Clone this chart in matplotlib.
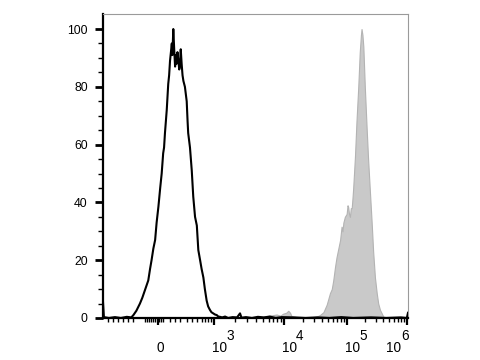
import numpy as np
import matplotlib
matplotlib.use('Agg')
from matplotlib import pyplot as plt
import matplotlib.transforms as mtransforms

plt.rcParams['font.family'] = 'Liberation Sans'

# x values are display channels (0-1024) of the biexponential axis
ctrl_ch = [0, 3, 20, 40, 60, 80, 95, 102, 112, 124, 132, 141, 152, 158, 163, 169,
           175, 180, 186, 192, 197, 202, 205, 208, 211, 214, 219, 222, 225, 228,
           231, 233, 236, 239, 242, 245, 247, 250, 253, 256, 258, 261, 264, 267,
           270, 275, 281, 284, 286, 292, 298, 303, 309, 315, 320, 326, 331, 337,
           342, 348, 353, 359, 364, 370, 376, 382, 387, 393, 400, 410, 420, 435,
           450, 460, 465, 480, 500, 520, 540, 560, 580, 600, 640, 680, 720, 760,
           800, 840, 900, 950, 1000, 1020, 1024]
ctrl_pct = [5.5, 0.3, 0, 0.3, 0, 0.4, 0.2, 1, 2.5, 5, 7, 9.7, 13, 17, 20, 24,
            27, 33, 38.5, 45, 50, 57, 59, 64, 68, 72, 81, 84, 89, 92,
            95, 91, 100, 93, 87, 91, 88, 92, 89, 86, 87, 93, 88, 84,
            82, 80, 75, 68, 64, 59, 51, 42, 35, 32, 23.5, 20, 17, 14,
            10, 6, 4, 2.8, 2, 1.6, 1.2, 1, 0.5, 0.4, 0.2, 0.5, 0, 0.3,
            0.2, 1.6, 0.1, 0.3, 0, 0.4, 0.2, 0.5, 0, 0.3, 0.2, 0, 0.2, 0,
            0.3, 0, 0.2, 0, 0.2, 0, 1.8]

stain_ch = [500, 530, 549, 565, 583, 595, 605, 615, 622, 628, 633, 650, 670, 684,
            700, 706, 718, 728, 740, 751, 762, 768, 773, 779, 784, 790, 796, 801,
            804, 807, 812, 818, 821, 823, 826, 829, 832, 835, 838, 840, 846, 851,
            857, 862, 866, 868, 871, 874, 879, 885, 890, 896, 902, 907, 913, 919,
            924, 930, 941, 952, 963, 1024]
stain_pct = [0, 0.2, 0.6, 0.9, 1.2, 0.8, 1.5, 1.8, 2.5, 1.8, 0.6, 0.3, 0.1, 0.2,
             0, 0.3, 0.5, 1, 2, 4.6, 8.6, 10, 13, 17.7, 21, 24, 27, 31.6,
             30, 33, 35, 36, 39, 38.5, 36, 35, 38, 38, 42, 45, 56, 68,
             80, 92, 98, 100, 98, 94, 80, 66, 55, 44, 33, 23, 14, 8.6,
             5, 2.8, 0.5, 0.2, 0, 0]

major_ch = [185, 373, 608, 819, 1021]
major_base = ['0', '10', '10', '10', '10']
major_exp = ['', '3', '4', '5', '6']
linear_minor = [17, 34, 50, 67, 84, 101,
                141, 148, 154, 161, 168, 175, 188, 195, 201,
                225, 242, 258, 282, 299, 316, 332, 343, 353, 363]


def decade_minor(lo, hi):
    return [lo + np.log10(m) * (hi - lo) for m in range(2, 10)]


minor_ch = list(linear_minor)
for a, b in zip(major_ch[1:-1], major_ch[2:]):
    minor_ch += decade_minor(a, b)

fig = plt.figure(figsize=(4.8, 3.6), dpi=100)
ax = fig.add_axes([0.2146, 0.1167, 0.6354, 0.8444])

ax.fill_between(stain_ch, stain_pct, 0, color='#c9c9c9', edgecolor='#b3b3b3',
                linewidth=0.8, zorder=2)
ax.plot(ctrl_ch, ctrl_pct, color='black', linewidth=1.5, zorder=3)

ax.set_xlim(0, 1024)
ax.set_ylim(0, 105.2)

ax.set_xticks(major_ch)
ax.set_xticklabels([''] * len(major_ch))
ax.set_xticks(minor_ch, minor=True)
ax.set_yticks([0, 20, 40, 60, 80, 100])
ax.set_yticks([v for v in range(5, 100, 5) if v % 20], minor=True)

ax.tick_params(axis='x', which='major', direction='out', length=5, width=1.6)
ax.tick_params(axis='x', which='minor', direction='out', length=3, width=1.0)
ax.tick_params(axis='y', which='major', direction='out', length=6, width=2.0,
               pad=5, labelsize=8.8)
ax.tick_params(axis='y', which='minor', direction='out', length=3.5, width=1.0)

# FlowJo style decade labels with full-size exponents
xaxis_tr = ax.get_xaxis_transform()
last = len(major_ch) - 1
for i, (pos, base, ex) in enumerate(zip(major_ch, major_base, major_exp)):
    if i == last:
        bx, ha = -6, 'right'
        ex_x = -6
    else:
        bx, ha = -2, 'left'
        ex_x = 12
    tr = mtransforms.offset_copy(xaxis_tr, fig=fig, x=bx, y=-34, units='dots')
    ax.text(pos, 0, base, transform=tr, ha=ha, va='baseline', fontsize=9.8)
    if ex:
        tr2 = mtransforms.offset_copy(xaxis_tr, fig=fig, x=ex_x, y=-22,
                                      units='dots')
        ax.text(pos, 0, ex, transform=tr2, ha='left', va='baseline',
                fontsize=9.8)

for side in ['left', 'bottom']:
    ax.spines[side].set_linewidth(1.6)
    ax.spines[side].set_color('black')
for side in ['top', 'right']:
    ax.spines[side].set_linewidth(0.8)
    ax.spines[side].set_color('#9a9a9a')

fig.savefig('out.png', dpi=100)
